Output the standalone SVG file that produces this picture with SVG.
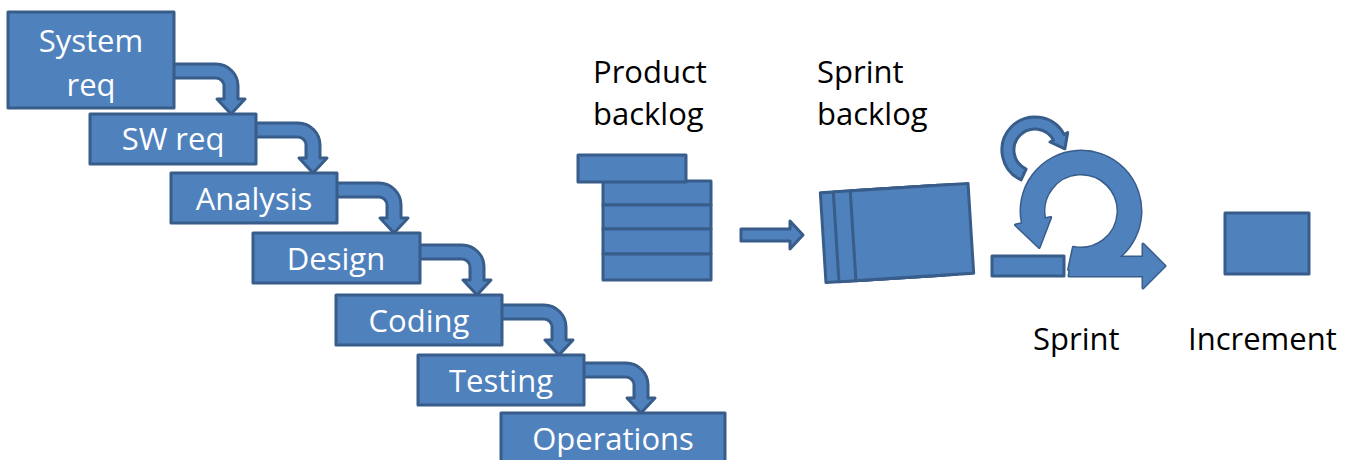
<svg xmlns="http://www.w3.org/2000/svg" width="1363" height="460" viewBox="0 0 1363 460">
<style>
.b{fill:#4f81bd;stroke:#385d8a;stroke-width:3;stroke-linejoin:round}
.f{fill:#4f81bd;stroke:none}
.wt{font-family:"Open Sans","Liberation Sans",sans-serif;font-size:31px;fill:#fff;text-anchor:middle}
.kt{font-family:"Open Sans","Liberation Sans",sans-serif;font-size:31px;fill:#000}
</style>
<rect width="1363" height="460" fill="#fff"/>
<g id="connectors">
<path class="b" d="M172,64 H216 A22 22 0 0 1 238,86 V99 H245 L231,114 L217,99 H224 V86 A8 8 0 0 0 216,78 H172 Z"/>
<path class="b" d="M254,123 H298 A22 22 0 0 1 320,145 V158 H327 L313,173 L299,158 H306 V145 A8 8 0 0 0 298,137 H254 Z"/>
<path class="b" d="M335,183 H379 A22 22 0 0 1 401,205 V218 H408 L394,233 L380,218 H387 V205 A8 8 0 0 0 379,197 H335 Z"/>
<path class="b" d="M418,245 H462 A22 22 0 0 1 484,267 V280 H491 L477,295 L463,280 H470 V267 A8 8 0 0 0 462,259 H418 Z"/>
<path class="b" d="M500,305 H544 A22 22 0 0 1 566,327 V340 H573 L559,355 L545,340 H552 V327 A8 8 0 0 0 544,319 H500 Z"/>
<path class="b" d="M582,363 H626 A22 22 0 0 1 648,385 V398 H655 L641,413 L627,398 H634 V385 A8 8 0 0 0 626,377 H582 Z"/>
<path id="pb-to-sb" class="b" d="M741,229 H790 V221 L803,235 L790,249 V241 H741 Z"/>
</g>
<g id="system-req">
<rect class="b" x="8" y="12" width="166" height="96"/>
<text class="wt" x="91" y="52">System</text>
<text class="wt" x="91" y="96">req</text>
</g>
<g id="sw-req">
<rect class="b" x="90" y="114" width="166" height="50"/>
<text class="wt" x="173" y="150">SW req</text>
</g>
<g id="analysis">
<rect class="b" x="171" y="173" width="166" height="50"/>
<text class="wt" x="254" y="210">Analysis</text>
</g>
<g id="design">
<rect class="b" x="253" y="233" width="167" height="50"/>
<text class="wt" x="336" y="270">Design</text>
</g>
<g id="coding">
<rect class="b" x="336" y="295" width="166" height="50"/>
<text class="wt" x="419" y="332">Coding</text>
</g>
<g id="testing">
<rect class="b" x="418" y="355" width="166" height="50"/>
<text class="wt" x="501" y="392">Testing</text>
</g>
<g id="operations">
<rect class="b" x="501" y="413" width="224" height="60"/>
<text class="wt" x="613" y="450">Operations</text>
</g>
<g id="product-backlog">
<text class="kt" x="593" y="83">Product</text>
<text class="kt" x="593" y="125">backlog</text>
<rect class="b" x="603" y="181" width="108" height="24"/>
<rect class="b" x="603" y="205" width="108" height="24"/>
<rect class="b" x="603" y="229" width="108" height="25"/>
<rect class="b" x="603" y="254" width="108" height="26"/>
<rect class="b" x="578" y="155" width="108" height="27"/>
</g>
<g id="sprint-backlog">
<text class="kt" x="817" y="83">Sprint</text>
<text class="kt" x="817" y="125">backlog</text>
<g transform="rotate(-3.6 897 233)">
<rect class="b" x="823" y="188" width="118" height="90"/>
<rect class="b" x="836" y="188" width="118" height="90"/>
<rect class="b" x="853" y="188" width="118" height="90"/>
</g>
</g>
<g id="sprint">
<path class="b" d="M1021.1,179.9 A33 33 0 1 1 1064.1,134.5 L1067.7,132.6 L1064.9,148.8 L1050,142 L1053.5,140.1 A21 21 0 1 0 1026.1,169 Z"/>
<rect class="b" x="992" y="256" width="72" height="20"/>
<path class="b" d="M1068.5,269.7 A60 60 0 1 0 1022.3,223.5 L1015.5,224.9 L1039.2,247.5 L1050.7,217.4 L1044.8,218.7 A37 37 0 1 1 1073.3,247.2 Z"/>
<path class="b" d="M1072,257 H1143 V244 L1165,266 L1143,288 V276 H1069 Z"/>
<path class="f" d="M1068.5,269.7 A60 60 0 1 0 1022.3,223.5 L1015.5,224.9 L1039.2,247.5 L1050.7,217.4 L1044.8,218.7 A37 37 0 1 1 1073.3,247.2 Z"/>
<path class="f" d="M1072,257 H1143 V244 L1165,266 L1143,288 V276 H1069 Z"/>
<text class="kt" x="1033" y="350">Sprint</text>
</g>
<g id="increment">
<rect class="b" x="1225" y="213" width="84" height="61"/>
<text class="kt" x="1188" y="350">Increment</text>
</g>
</svg>
